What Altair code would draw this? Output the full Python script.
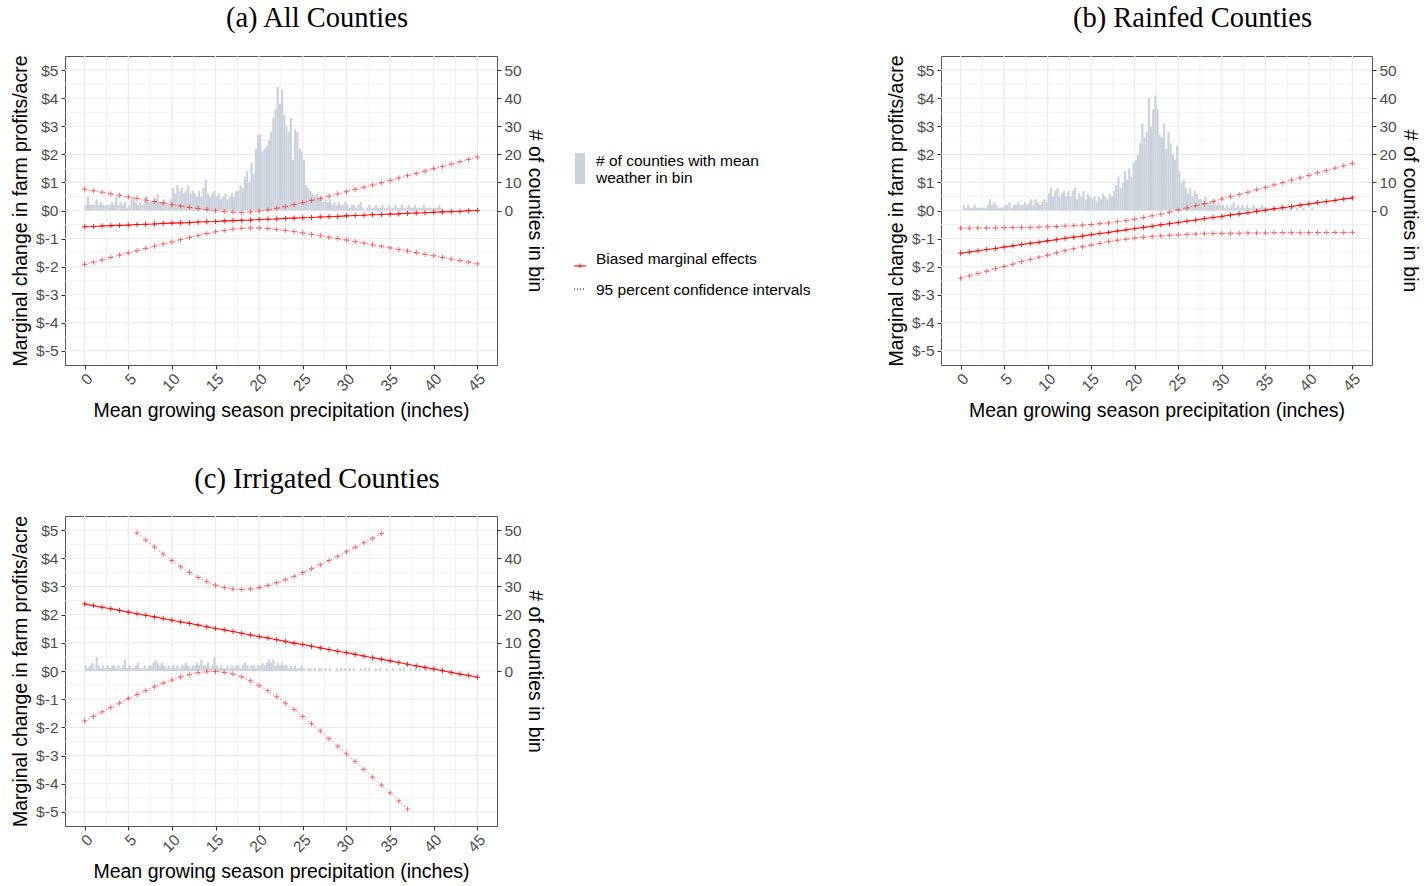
import altair as alt
import pandas as pd

# ---------------- data ----------------
X_INT = list(range(46))

A_EST = [-0.58, -0.57, -0.55, -0.54, -0.53, -0.52, -0.50, -0.49, -0.48, -0.46,
         -0.45, -0.44, -0.43, -0.41, -0.40, -0.39, -0.37, -0.36, -0.35, -0.34,
         -0.32, -0.31, -0.30, -0.28, -0.27, -0.26, -0.25, -0.23, -0.22, -0.21,
         -0.19, -0.18, -0.17, -0.15, -0.14, -0.13, -0.12, -0.10, -0.09, -0.08,
         -0.06, -0.05, -0.04, -0.03, -0.01, 0.00]
A_UP = [0.76, 0.70, 0.65, 0.59, 0.54, 0.48, 0.43, 0.37, 0.32, 0.27,
        0.21, 0.16, 0.11, 0.07, 0.03, -0.01, -0.04, -0.06, -0.07, -0.05,
        -0.02, 0.02, 0.08, 0.14, 0.21, 0.28, 0.36, 0.43, 0.51, 0.59,
        0.67, 0.75, 0.83, 0.91, 0.99, 1.07, 1.16, 1.24, 1.32, 1.40,
        1.49, 1.57, 1.65, 1.73, 1.82, 1.90]
A_LO = [-1.92, -1.84, -1.76, -1.67, -1.59, -1.51, -1.43, -1.35, -1.27, -1.19,
        -1.12, -1.04, -0.96, -0.89, -0.82, -0.76, -0.71, -0.66, -0.63, -0.62,
        -0.62, -0.64, -0.67, -0.71, -0.75, -0.80, -0.85, -0.90, -0.95, -1.00,
        -1.05, -1.11, -1.16, -1.22, -1.27, -1.33, -1.39, -1.44, -1.50, -1.56,
        -1.61, -1.67, -1.73, -1.78, -1.84, -1.90]

B_EST = [-1.52, -1.48, -1.43, -1.39, -1.35, -1.30, -1.26, -1.21, -1.17, -1.13,
         -1.08, -1.04, -0.99, -0.95, -0.91, -0.86, -0.82, -0.78, -0.73, -0.69,
         -0.64, -0.60, -0.56, -0.51, -0.47, -0.43, -0.38, -0.34, -0.29, -0.25,
         -0.21, -0.16, -0.12, -0.08, -0.03, 0.01, 0.06, 0.10, 0.14, 0.19,
         0.23, 0.28, 0.32, 0.36, 0.41, 0.45]
B_UP = [-0.63, -0.63, -0.62, -0.62, -0.62, -0.61, -0.61, -0.60, -0.60, -0.59,
        -0.58, -0.57, -0.55, -0.54, -0.52, -0.50, -0.47, -0.44, -0.40, -0.36,
        -0.31, -0.25, -0.19, -0.13, -0.06, 0.02, 0.09, 0.17, 0.24, 0.32,
        0.41, 0.49, 0.57, 0.65, 0.74, 0.82, 0.91, 0.99, 1.08, 1.16,
        1.25, 1.34, 1.42, 1.51, 1.59, 1.68]
B_LO = [-2.41, -2.33, -2.24, -2.16, -2.07, -1.99, -1.91, -1.82, -1.74, -1.66,
        -1.59, -1.51, -1.43, -1.36, -1.29, -1.23, -1.17, -1.11, -1.06, -1.02,
        -0.98, -0.95, -0.92, -0.90, -0.88, -0.87, -0.85, -0.84, -0.83, -0.82,
        -0.82, -0.81, -0.81, -0.80, -0.80, -0.80, -0.79, -0.79, -0.79, -0.79,
        -0.79, -0.78, -0.78, -0.78, -0.78, -0.78]

C_EST = [2.38, 2.32, 2.26, 2.21, 2.15, 2.09, 2.03, 1.98, 1.92, 1.86,
         1.80, 1.74, 1.69, 1.63, 1.57, 1.51, 1.46, 1.40, 1.34, 1.28,
         1.22, 1.17, 1.11, 1.05, 0.99, 0.94, 0.88, 0.82, 0.76, 0.70,
         0.65, 0.59, 0.53, 0.47, 0.42, 0.36, 0.30, 0.24, 0.18, 0.13,
         0.07, 0.01, -0.05, -0.11, -0.16, -0.22]
C_UP_X = list(range(6, 35))
C_UP = [4.90, 4.65, 4.40, 4.15, 3.92, 3.70, 3.50, 3.32, 3.17, 3.04,
        2.96, 2.91, 2.89, 2.91, 2.96, 3.04, 3.13, 3.24, 3.36, 3.49,
        3.63, 3.77, 3.92, 4.07, 4.23, 4.39, 4.55, 4.71, 4.88]
C_LO_X = list(range(0, 38))
C_LO = [-1.77, -1.61, -1.45, -1.29, -1.14, -0.98, -0.84, -0.70, -0.56, -0.43,
        -0.32, -0.21, -0.13, -0.06, -0.03, -0.02, -0.05, -0.11, -0.21, -0.35,
        -0.51, -0.70, -0.91, -1.14, -1.37, -1.62, -1.87, -2.13, -2.40, -2.67,
        -2.94, -3.21, -3.49, -3.77, -4.05, -4.33, -4.61, -4.90]

# histogram counts, bins of BIN_WIDTH inches starting at 0
BIN_WIDTH = 0.25
A_HIST = [2, 5, 2, 2, 2, 4, 2, 3, 2, 2,
          2, 2, 3, 2, 5, 2, 3, 2, 3, 1,
          2, 4, 5, 3, 2, 3, 2, 3, 5, 3,
          3, 3, 4, 6, 3, 3, 4, 3, 2, 4,
          8, 6, 9, 7, 8, 6, 7, 9, 6, 7,
          6, 5, 7, 5, 8, 11, 6, 5, 6, 7,
          5, 6, 4, 5, 6, 4, 5, 6, 5, 7,
          7, 9, 8, 12, 14, 10, 17, 13, 22, 27,
          27, 21, 22, 23, 25, 28, 33, 36, 44, 38,
          43, 34, 30, 28, 33, 18, 29, 28, 22, 21,
          18, 9, 8, 7, 6, 5, 6, 4, 5, 3,
          4, 3, 4, 2, 3, 2, 3, 2, 2, 3,
          2, 1, 2, 2, 1, 2, 3, 1, 0, 1,
          2, 1, 1, 2, 1, 1, 2, 1, 1, 2,
          1, 1, 2, 1, 1, 2, 1, 1, 2, 1,
          1, 2, 1, 1, 1, 2, 1, 1, 1, 1,
          1, 1, 2, 1]
B_HIST = [0, 2, 1, 2, 1, 1, 2, 1, 1, 1,
          1, 1, 2, 4, 2, 3, 2, 1, 1, 1,
          2, 2, 3, 1, 2, 2, 3, 2, 2, 3,
          2, 3, 4, 2, 4, 3, 2, 3, 4, 3,
          6, 8, 5, 7, 8, 5, 6, 7, 5, 7,
          5, 7, 8, 4, 6, 5, 7, 4, 6, 5,
          4, 5, 3, 5, 4, 6, 5, 4, 6, 5,
          7, 9, 12, 8, 10, 14, 11, 15, 12, 17,
          18, 20, 24, 31, 26, 28, 40, 30, 36, 41,
          36, 27, 26, 31, 22, 28, 24, 20, 18, 23,
          14, 10, 11, 8, 6, 8, 5, 7, 6, 4,
          4, 3, 5, 3, 3, 2, 4, 2, 3, 2,
          2, 1, 2, 1, 2, 3, 1, 2, 1, 2,
          1, 2, 1, 1, 2, 1, 1, 1, 2, 1,
          1, 1, 0, 1, 1, 0, 1, 1, 0, 1,
          0, 1, 0, 0, 1, 0, 0, 1, 0, 0,
          0, 1, 0, 0]
C_HIST = [2, 1, 2, 3, 1, 5, 2, 1, 2, 1,
          2, 1, 2, 2, 1, 2, 1, 2, 4, 1,
          2, 1, 1, 2, 3, 1, 1, 2, 1, 2,
          2, 3, 4, 3, 2, 3, 2, 1, 2, 1,
          2, 1, 2, 1, 2, 2, 3, 2, 1, 2,
          2, 3, 2, 4, 2, 2, 3, 1, 2, 5,
          2, 1, 2, 1, 1, 2, 1, 2, 1, 2,
          2, 1, 2, 3, 2, 1, 2, 2, 1, 2,
          2, 3, 2, 3, 4, 3, 4, 2, 3, 2,
          3, 2, 2, 1, 2, 1, 2, 1, 1, 2,
          1, 0, 1, 1, 0, 1, 0, 1, 1, 0,
          1, 0, 1, 0, 0, 1, 0, 1, 0, 1,
          0, 1, 0, 1, 0, 0, 1, 0, 1, 0,
          1, 0, 0, 1, 0, 1, 0, 0, 1, 0,
          0, 1, 0, 0, 1, 0, 1, 0, 0, 1,
          0, 1, 0, 1, 0, 0, 1, 0, 1, 0,
          0, 1, 0, 1]

X_TICKS = [0, 5, 10, 15, 20, 25, 30, 35, 40, 45]
Y_TICKS = [-5, -4, -3, -2, -1, 0, 1, 2, 3, 4, 5]
N_TICKS = [0, 10, 20, 30, 40, 50]
X_GRID_MINOR = [2.5, 7.5, 12.5, 17.5, 22.5, 27.5, 32.5, 37.5, 42.5]
Y_GRID_MINOR = [-4.5, -3.5, -2.5, -1.5, -0.5, 0.5, 1.5, 2.5, 3.5, 4.5]

TITLES = ["(a) All Counties", "(b) Rainfed Counties", "(c) Irrigated Counties"]
X_TITLE = "Mean growing season precipitation (inches)"
Y_TITLE = "Marginal change in farm profits/acre"
N_TITLE = "# of counties in bin"
LEGEND_HIST = ["# of counties with mean", "weather in bin"]
LEGEND_EST = "Biased marginal effects"
LEGEND_CI = "95 percent confidence intervals"

# ---------------- style ----------------
FONT = "Liberation Sans"
SERIF = "Liberation Serif"
RED = "#FF0000"
HIST_FILL = "#CBD2DC"
GRID = "#EBEBEB"
PLUS = "M-1,0L1,0M0,-1L0,1"
X_DOMAIN = [-2.25, 47.25]
Y_DOMAIN = [-5.5, 5.5]
N_DOMAIN = [-55, 55]
LEG_FONT = 15.5
TITLE_OFFSET = 22


def panel(title, est, up_x, up, lo_x, lo, hist, w, h):
    xs = alt.Scale(domain=X_DOMAIN, nice=False, zero=False)
    ys = alt.Scale(domain=Y_DOMAIN, nice=False, zero=False)
    ns = alt.Scale(domain=N_DOMAIN, nice=False, zero=False)

    def X(field):
        return alt.X(f"{field}:Q", scale=xs,
                     axis=alt.Axis(values=X_TICKS, labelAngle=-45, title=X_TITLE,
                                   labelFlush=False, labelOverlap=False,
                                   labelPadding=2, titlePadding=7))

    def Y(field):
        return alt.Y(f"{field}:Q", scale=ys,
                     axis=alt.Axis(orient="left", values=Y_TICKS,
                                   labelExpr="'$' + datum.value", title=Y_TITLE,
                                   labelOverlap=False, labelPadding=3, titlePadding=5))

    vmaj = alt.Chart(pd.DataFrame({"g": X_TICKS})).mark_rule(
        color=GRID, strokeWidth=1.2).encode(x=X("g"))
    vmin = alt.Chart(pd.DataFrame({"g": X_GRID_MINOR})).mark_rule(
        color=GRID, strokeWidth=0.7).encode(x=X("g"))
    hmaj = alt.Chart(pd.DataFrame({"g": Y_TICKS})).mark_rule(
        color=GRID, strokeWidth=1.2).encode(y=alt.Y("g:Q", scale=ys, axis=None))
    hmin = alt.Chart(pd.DataFrame({"g": Y_GRID_MINOR})).mark_rule(
        color=GRID, strokeWidth=0.7).encode(y=alt.Y("g:Q", scale=ys, axis=None))
    grid = alt.layer(vmaj, vmin, hmaj, hmin)

    lo_edges = [i * BIN_WIDTH for i in range(len(hist))]
    hdf = pd.DataFrame({"lo": lo_edges,
                        "hi": [e + BIN_WIDTH for e in lo_edges],
                        "n": hist})
    bars = alt.Chart(hdf).mark_rect(color=HIST_FILL).encode(
        x=X("lo"), x2="hi",
        y=alt.Y("n:Q", scale=ns,
                axis=alt.Axis(orient="right", values=N_TICKS, title=N_TITLE,
                              labelOverlap=False, labelPadding=3, titlePadding=3)),
        y2=alt.datum(0))

    edf = pd.DataFrame({"x": X_INT, "v": est})
    cdf = pd.DataFrame({"x": list(up_x) + list(lo_x),
                        "v": list(up) + list(lo),
                        "kind": ["upper"] * len(up) + ["lower"] * len(lo)})
    est_line = alt.Chart(edf).mark_line(color=RED, strokeWidth=1.1, opacity=0.9).encode(
        x=X("x"), y=Y("v"))
    ci_line = alt.Chart(cdf).mark_line(color=RED, strokeWidth=1, strokeDash=[1.5, 2.5],
                                       opacity=0.55).encode(
        x=X("x"), y=Y("v"), detail="kind:N")
    est_pts = alt.Chart(edf).mark_point(shape=PLUS, filled=False, color=RED, size=28,
                                        strokeWidth=1, opacity=0.85).encode(
        x=X("x"), y=Y("v"))
    ci_pts = alt.Chart(cdf).mark_point(shape=PLUS, filled=False, color=RED, size=28,
                                       strokeWidth=1, opacity=0.55).encode(
        x=X("x"), y=Y("v"))
    lines = alt.layer(est_line, ci_line, est_pts, ci_pts)

    return alt.layer(grid, bars, lines).resolve_scale(y="independent").properties(
        width=w, height=h,
        title=alt.TitleParams(title, font=SERIF, fontSize=28.5, fontWeight="normal",
                              color="black", anchor="middle", frame="group",
                              dx=36, offset=TITLE_OFFSET))


A = panel(TITLES[0], A_EST, X_INT, A_UP, X_INT, A_LO, A_HIST, 432, 309)
B = panel(TITLES[1], B_EST, X_INT, B_UP, X_INT, B_LO, B_HIST, 431, 309)
C = panel(TITLES[2], C_EST, C_UP_X, C_UP, C_LO_X, C_LO, C_HIST, 432, 310)

# ---------------- legend (own view) ----------------
lb = alt.Chart(pd.DataFrame({"k": [0]}))


def leg_text(label, y):
    return lb.mark_text(align="left", baseline="middle", fontSize=LEG_FONT, font=FONT,
                        color="black").encode(x=alt.value(30), y=alt.value(y),
                                              text=alt.value(label))


leg = alt.layer(
    lb.mark_rect(color=HIST_FILL).encode(
        x=alt.value(9), x2=alt.value(19), y=alt.value(97), y2=alt.value(128)),
    leg_text(LEGEND_HIST[0], 105),
    leg_text(LEGEND_HIST[1], 122),
    lb.mark_rule(color=RED, strokeWidth=1).encode(
        x=alt.value(8), x2=alt.value(20), y=alt.value(210)),
    lb.mark_point(shape=PLUS, filled=False, color=RED, size=28, strokeWidth=1).encode(
        x=alt.value(14), y=alt.value(210)),
    leg_text(LEGEND_EST, 203),
    lb.mark_rule(color="black", strokeWidth=1, strokeDash=[1, 2]).encode(
        x=alt.value(8), x2=alt.value(20), y=alt.value(233)),
    leg_text(LEGEND_CI, 234),
).properties(width=299, height=309,
             view=alt.ViewBackground(stroke="transparent"),
             title=alt.TitleParams(" ", font=SERIF, fontSize=28.5, offset=TITLE_OFFSET))

top = alt.hconcat(A, leg, B, spacing=20)
chart = alt.vconcat(top, C, spacing=43).properties(
    padding={"left": 10, "top": 3, "right": 4, "bottom": 0}
).configure(font=FONT).configure_axis(
    labelFont=FONT, titleFont=FONT, labelFontSize=15.5, titleFontSize=19.5,
    labelColor="#4D4D4D", titleColor="black", titleFontWeight="normal",
    tickColor="#333333", tickSize=4, tickWidth=1, domain=False, grid=False
).configure_view(stroke="#555555", strokeWidth=1)

chart.save("out.html", embed_options={"renderer": "svg", "actions": False})
